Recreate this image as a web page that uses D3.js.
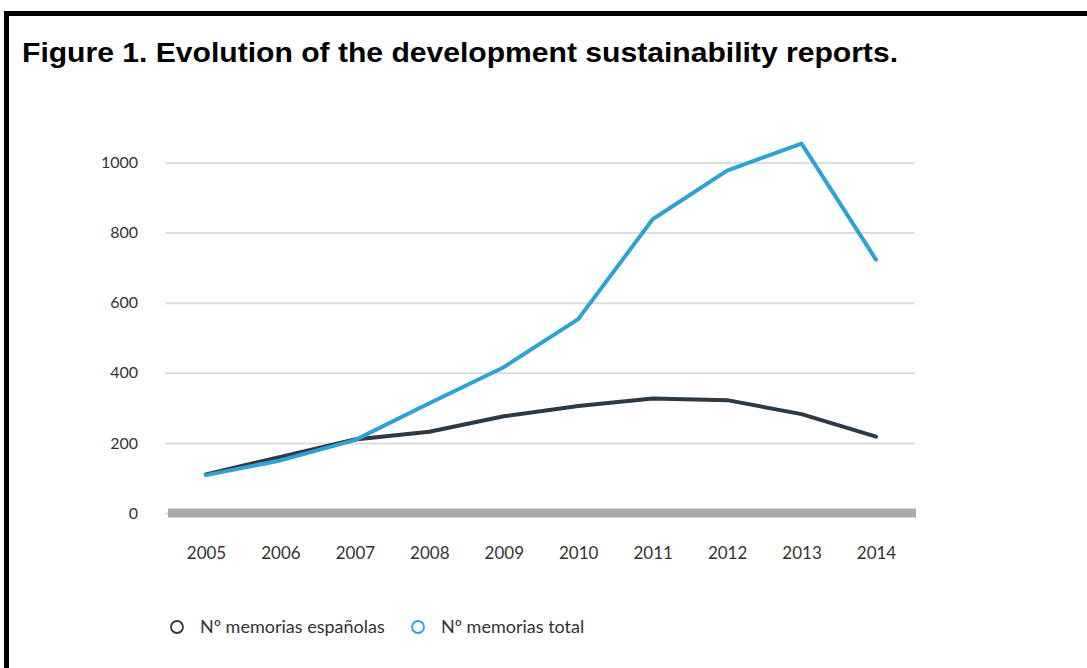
<!DOCTYPE html>
<html>
<head>
<meta charset="utf-8">
<script src="https://cdn.jsdelivr.net/npm/d3@7"></script>
<style>
  body { margin: 0; background: #fff; }
  svg { display: block; }
</style>
</head>
<body>
<script>
// data
const years = ["2005", "2006", "2007", "2008", "2009", "2010", "2011", "2012", "2013", "2014"];
const spanish = [110, 160, 210, 232, 276, 305, 327, 322, 282, 218];
const total = [108, 150, 208, 313, 416, 553, 838, 977, 1054, 723];
const yTicks = [0, 200, 400, 600, 800, 1000];
const seriesNames = ["Nº memorias españolas", "Nº memorias total"];
const seriesColors = ["#2e3944", "#2ea2d4"];

const width = 1087, height = 668;

var svg = d3.select("body").append("svg")
    .attr("width", width)
    .attr("height", height);

svg.append("rect").attr("width", width).attr("height", height).attr("fill", "#fff");

// frame (only top and left edges fall inside the picture)
svg.append("rect")
    .attr("x", 6.5).attr("y", 13.5)
    .attr("width", width + 20).attr("height", height + 20)
    .attr("fill", "none")
    .attr("stroke", "#000")
    .attr("stroke-width", 5);

svg.append("text")
    .attr("x", 22).attr("y", 62)
    .attr("font-family", "Liberation Sans, Arial, sans-serif")
    .attr("font-weight", "bold")
    .attr("font-size", 27)
    .attr("textLength", 876)
    .attr("lengthAdjust", "spacingAndGlyphs")
    .attr("fill", "#000")
    .text("Figure 1. Evolution of the development sustainability reports.");

// scales
var x = d3.scalePoint().domain(years).range([206, 876]);
var y = d3.scaleLinear().domain([0, 1000]).range([513, 162.5]);

const gridLeft = 165, gridRight = 915;

// gridlines + y labels
var yAxis = svg.append("g")
    .attr("transform", "translate(" + gridRight + ",0)")
    .call(d3.axisLeft(y).tickValues(yTicks).tickFormat(d3.format("d"))
      .tickSize(gridRight - gridLeft).tickPadding(27));
yAxis.select(".domain").remove();
yAxis.selectAll(".tick line")
    .attr("stroke", "#dcdcdc")
    .attr("stroke-width", 2);
yAxis.selectAll(".tick text")
    .attr("font-family", "Lato, sans-serif")
    .attr("font-size", 16)
    .attr("fill", "#333");

// thick zero baseline
svg.append("line")
    .attr("x1", 168).attr("x2", 916)
    .attr("y1", y(0)).attr("y2", y(0))
    .attr("stroke", "#aaaaaa")
    .attr("stroke-width", 9);

// year labels
var xAxis = svg.append("g")
    .attr("transform", "translate(0,547)")
    .call(d3.axisBottom(x).tickSize(0).tickPadding(0));
xAxis.select(".domain").remove();
xAxis.selectAll(".tick text")
    .attr("font-family", "Lato, sans-serif")
    .attr("font-size", 17)
    .attr("fill", "#333");

// lines
var line = d3.line()
    .x(function(d, i) { return x(years[i]); })
    .y(function(d) { return y(d); });

svg.append("path")
    .datum(spanish)
    .attr("d", line)
    .attr("fill", "none")
    .attr("stroke", seriesColors[0])
    .attr("stroke-width", 4)
    .attr("stroke-linejoin", "round")
    .attr("stroke-linecap", "round");

svg.append("path")
    .datum(total)
    .attr("d", line)
    .attr("fill", "none")
    .attr("stroke", seriesColors[1])
    .attr("stroke-width", 4)
    .attr("stroke-linejoin", "round")
    .attr("stroke-linecap", "round");

// legend
var legendX = [177, 418];
var legend = svg.selectAll("g.legend")
    .data(seriesNames)
    .enter().append("g")
    .attr("class", "legend")
    .attr("transform", function(d, i) { return "translate(" + legendX[i] + ",627)"; });

legend.append("circle")
    .attr("r", 6)
    .attr("fill", "#fff")
    .attr("stroke", function(d, i) { return seriesColors[i]; })
    .attr("stroke-width", 1.8);

legend.append("text")
    .attr("x", 23)
    .attr("dy", ".35em")
    .attr("font-family", "Lato, sans-serif")
    .attr("font-size", 18)
    .attr("fill", "#333")
    .text(function(d) { return d; });
</script>
</body>
</html>
